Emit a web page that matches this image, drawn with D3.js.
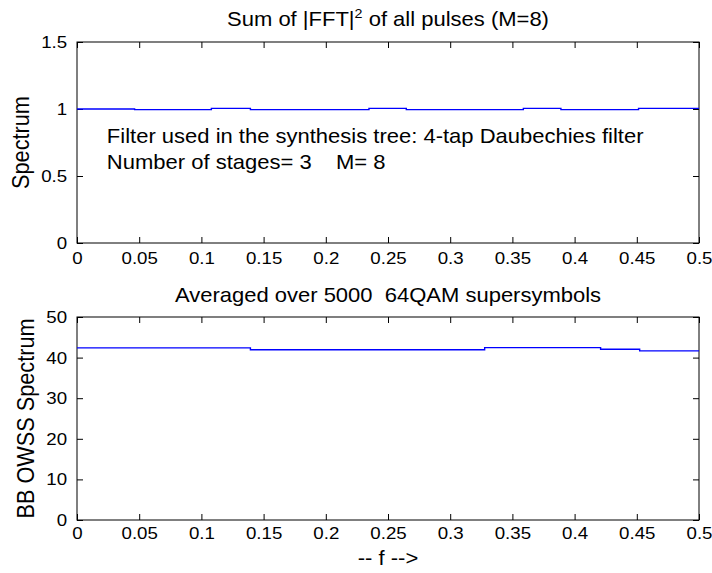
<!DOCTYPE html>
<html>
<head>
<meta charset="utf-8">
<script src="https://cdn.jsdelivr.net/npm/d3@7"></script>
<style>
  body { margin: 0; background: #fff; }
  text { font-family: "Liberation Sans", Arial, sans-serif; fill: #000; }
</style>
</head>
<body>
<svg id="chart" width="712" height="573"></svg>
<script>
// frequency ticks shared by both panels
var freqTicks = [0, 0.05, 0.1, 0.15, 0.2, 0.25, 0.3, 0.35, 0.4, 0.45, 0.5];

// top panel: sum of |FFT|^2 (step levels)
var topFreq = [0, 0.0463, 0.108, 0.1394, 0.2347, 0.2647, 0.3588, 0.389, 0.4514, 0.5];
var topSpectrum = [1.0, 0.995, 1.005, 0.995, 1.005, 0.995, 1.005, 0.995, 1.005, 1.005];
var topYTicks = [0, 0.5, 1, 1.5];

// bottom panel: averaged BB OWSS spectrum
var bottomFreq = [0, 0.1394, 0.3277, 0.4209, 0.4523, 0.5];
var bottomSpectrum = [42.4, 41.95, 42.45, 42.05, 41.65, 41.65];
var bottomYTicks = [0, 10, 20, 30, 40, 50];

var annotationLines = [
  "Filter used in the synthesis tree: 4-tap Daubechies filter",
  "Number of stages= 3    M= 8"
];

var svg = d3.select("#chart");
var left = 77, right = 699;
// the original font renders a bit wider than Liberation Sans
var stretch = 1.1;

var xScale = d3.scaleLinear().domain([0, 0.5]).range([left, right]);
var fmt = function(d) { return String(+d.toFixed(2)); };

function drawPanel(cfg) {
  var yScale = d3.scaleLinear().domain(cfg.yDomain).range([cfg.bottom, cfg.top]);
  var g = svg.append("g");

  // inward ticks on all four sides, like a boxed matlab axes
  var xb = d3.axisBottom(xScale).tickValues(freqTicks).tickSize(-6).tickPadding(cfg.xPad).tickFormat(fmt);
  var xt = d3.axisTop(xScale).tickValues(freqTicks).tickSize(-6).tickFormat("");
  var yl = d3.axisLeft(yScale).tickValues(cfg.yTicks).tickSize(-6).tickPadding(9).tickFormat(fmt);
  var yr = d3.axisRight(yScale).tickValues(cfg.yTicks).tickSize(-6).tickFormat("");

  g.append("g").attr("transform", "translate(0," + cfg.bottom + ")").call(xb);
  g.append("g").attr("transform", "translate(0," + cfg.top + ")").call(xt);
  g.append("g").attr("transform", "translate(" + left + ",0)").call(yl);
  g.append("g").attr("transform", "translate(" + right + ",0)").call(yr);

  g.selectAll(".domain").remove();
  g.selectAll(".tick line").attr("stroke", "#000");
  g.selectAll(".tick text")
    .style("font-size", "17px")
    .style("font-family", "'Liberation Sans', Arial, sans-serif")
    .attr("fill", "#000")
    .attr("transform", "scale(" + stretch + ",1)");

  g.append("rect")
    .attr("x", left).attr("y", cfg.top)
    .attr("width", right - left).attr("height", cfg.bottom - cfg.top)
    .attr("fill", "none").attr("stroke", "#000").attr("stroke-width", 1);

  var line = d3.line()
    .x(function(d) { return xScale(d[0]); })
    .y(function(d) { return yScale(d[1]); })
    .curve(d3.curveStepAfter);

  g.append("path")
    .datum(d3.zip(cfg.freq, cfg.values))
    .attr("fill", "none")
    .attr("stroke", "#0000ff")
    .attr("stroke-width", 1.4)
    .attr("d", line);

  // y label (stretch is along screen x, i.e. across the rotated glyphs)
  g.append("text")
    .attr("transform", "translate(" + cfg.yLabelX + "," + ((cfg.top + cfg.bottom) / 2) + ") scale(" + stretch + ",1) rotate(-90)")
    .attr("text-anchor", "middle")
    .style("font-size", "21.7px")
    .text(cfg.yLabel);

  return { g: g, y: yScale };
}

var p1 = drawPanel({
  top: 42, bottom: 243, yDomain: [0, 1.5], yTicks: topYTicks,
  freq: topFreq, values: topSpectrum, xPad: 9,
  yLabel: "Spectrum", yLabelX: 28.5
});

var p2 = drawPanel({
  top: 317, bottom: 520, yDomain: [0, 50], yTicks: bottomYTicks,
  freq: bottomFreq, values: bottomSpectrum, xPad: 7,
  yLabel: "BB OWSS Spectrum", yLabelX: 33.5
});

function place(x, y) {
  return "translate(" + x + "," + y + ") scale(" + stretch + ",1)";
}

// titles
var t1 = svg.append("text")
  .attr("transform", place((left + right) / 2, 26))
  .attr("text-anchor", "middle")
  .style("font-size", "20px");
t1.append("tspan").text("Sum of |FFT|");
t1.append("tspan").attr("dy", -8).style("font-size", "13px").text("2");
t1.append("tspan").attr("dy", 8).text(" of all pulses (M=8)");

svg.append("text")
  .attr("transform", place((left + right) / 2, 302))
  .attr("text-anchor", "middle")
  .style("font-size", "20px")
  .style("white-space", "pre")
  .attr("xml:space", "preserve")
  .text("Averaged over 5000  64QAM supersymbols");

// annotation in the top panel
svg.append("g").selectAll("text")
  .data(annotationLines)
  .enter().append("text")
  .attr("transform", function(d, i) { return place(xScale(0.024), p1.y(0.75) + i * 26.7); })
  .style("font-size", "20px")
  .style("white-space", "pre")
  .attr("xml:space", "preserve")
  .text(function(d) { return d; });

// x label
svg.append("text")
  .attr("transform", place((left + right) / 2, 565))
  .attr("text-anchor", "middle")
  .style("font-size", "20px")
  .text("-- f -->");
</script>
</body>
</html>
